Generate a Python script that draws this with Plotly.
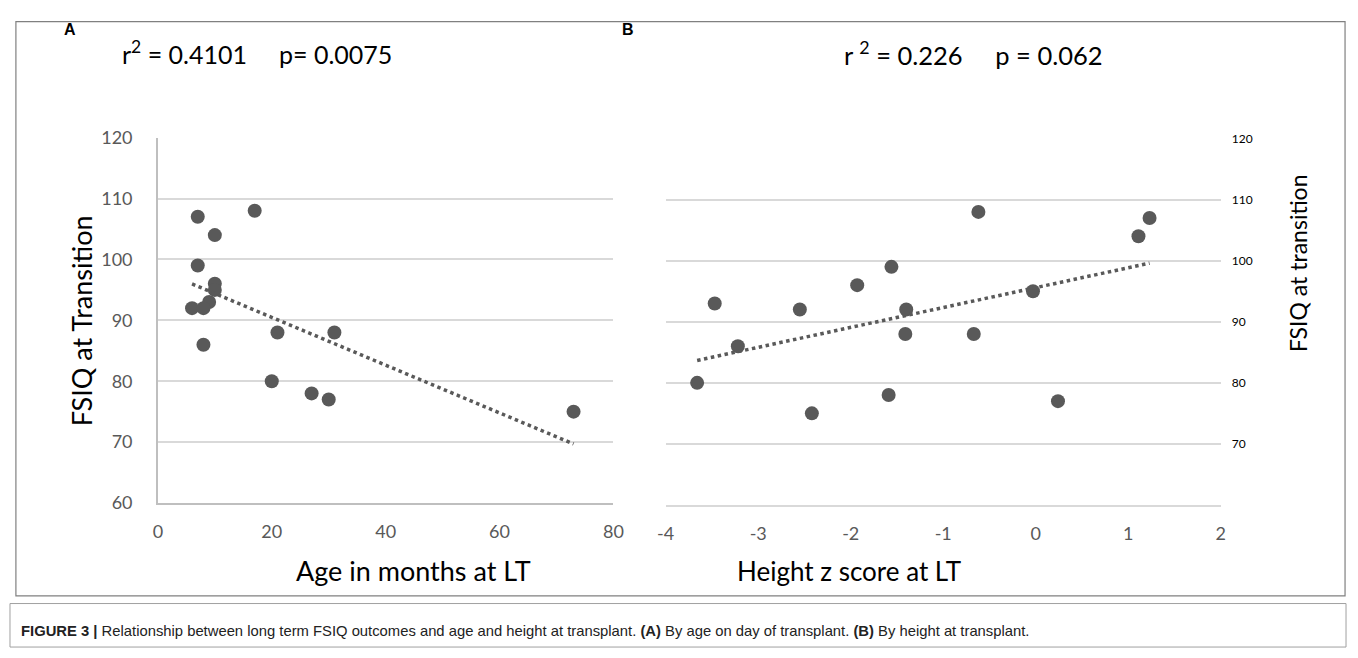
import numpy as np
import plotly.graph_objects as go

# ---- data ----
age_months = [7, 17, 10, 7, 10, 10, 9, 6, 8, 8, 21, 31, 20, 27, 30, 73]
fsiq_a = [107, 108, 104, 99, 96, 95, 93, 92, 92, 86, 88, 88, 80, 78, 77, 75]

height_z = [-0.62, -1.56, -1.93, -3.47, -2.55, -1.40, -1.41, -0.67, -3.22, -3.66,
            -1.59, -2.42, 1.23, 1.11, -0.03, 0.24]
fsiq_b = [108, 99, 96, 93, 92, 92, 88, 88, 86, 80, 78, 75, 107, 104, 95, 77]

y_ticks_a = [60, 70, 80, 90, 100, 110, 120]
y_ticks_b = [70, 80, 90, 100, 110, 120]
x_ticks_a = [0, 20, 40, 60, 80]
x_ticks_b = [-4, -3, -2, -1, 0, 1, 2]
x_labels_b = ["-4", "-3", "-2", "-1", "0", "1", "2"]

W, H = 1358, 658
def px(x):
    return x / W
def py(y):
    return 1 - y / H

MARK = "#595959"
GRID = "#d9d9d9"
FONT = "Lato, Open Sans, sans-serif"
TICKC = "#595959"

def trend(xs, ys):
    m, b = np.polyfit(xs, ys, 1)
    x0, x1 = min(xs), max(xs)
    return [x0, x1], [m * x0 + b, m * x1 + b]

fig = go.Figure()

fig.add_trace(go.Scatter(x=age_months, y=fsiq_a, mode="markers",
                         marker=dict(size=14, color=MARK), xaxis="x", yaxis="y",
                         showlegend=False))
tx, ty = trend(age_months, fsiq_a)
fig.add_trace(go.Scatter(x=tx, y=ty, mode="lines",
                         line=dict(color=MARK, width=3.5, dash="3.5px,3.5px"),
                         xaxis="x", yaxis="y", showlegend=False))

fig.add_trace(go.Scatter(x=height_z, y=fsiq_b, mode="markers",
                         marker=dict(size=14, color=MARK), xaxis="x2", yaxis="y2",
                         showlegend=False))
tx2, ty2 = trend(height_z, fsiq_b)
fig.add_trace(go.Scatter(x=tx2, y=ty2, mode="lines",
                         line=dict(color=MARK, width=3.5, dash="3.5px,3.5px"),
                         xaxis="x2", yaxis="y2", showlegend=False))

fig.update_layout(
    width=W, height=H,
    margin=dict(l=0, r=0, t=0, b=0),
    paper_bgcolor="white", plot_bgcolor="white",
    font=dict(family=FONT, color="#000"),
    xaxis=dict(domain=[px(151), px(613)], range=[0, 80], tickvals=x_ticks_a,
               showgrid=False, zeroline=False, showline=True, linecolor="#bfbfbf",
               linewidth=1.5, ticks="", tickfont=dict(size=18, color=TICKC),
               ticklabelstandoff=12, anchor="y"),
    yaxis=dict(domain=[py(508), py(130)], range=[60, 120], tickvals=y_ticks_a,
               showgrid=True, gridcolor=GRID, gridwidth=1.5, zeroline=False,
               showline=True, linecolor="#bfbfbf", linewidth=1.5, ticks="",
               tickfont=dict(size=18, color=TICKC), ticklabelstandoff=20,
               anchor="x"),
    xaxis2=dict(domain=[px(666), px(1229)], range=[-4, 2], tickvals=x_ticks_b,
                ticktext=x_labels_b,
                showgrid=False, zeroline=False, showline=True, linecolor=GRID,
                linewidth=1.5, ticks="",
                tickfont=dict(size=18, color=TICKC), ticklabelstandoff=12,
                anchor="y2"),
    yaxis2=dict(domain=[py(510), py(131)], range=[60, 120], tickvals=y_ticks_b,
                side="right", showgrid=True, gridcolor=GRID, gridwidth=1.5,
                zeroline=False, showline=False, ticks="",
                tickfont=dict(size=12, color="#000"), ticklabelstandoff=10,
                anchor="x2"),
)

def A(text, x, y, size, xanchor="center", angle=0, family=None, color=None):
    f = dict(size=size)
    if family:
        f["family"] = family
    if color:
        f["color"] = color
    return dict(text=text, x=px(x), y=py(y), xanchor=xanchor, yanchor="middle",
                textangle=angle, font=f, showarrow=False, xref="paper", yref="paper")

ann = [
    A("FSIQ at Transition", 73, 319, 27, angle=-90),
    A("FSIQ at transition", 1308, 260, 23, angle=-90),
    A("Age in months at LT", 410, 578, 27),
    A("Height z score at LT", 852, 578, 26),
    A("<b>A</b>", 62, 18, 16, family="Liberation Sans, Arial"),
    A("<b>B</b>", 628, 18, 16, family="Liberation Sans, Arial"),
    A("r<sup>2</sup> = 0.4101\u00a0\u00a0\u00a0\u00a0\u00a0p= 0.0075", 113, 42, 25,
      xanchor="left"),
    A("r <sup>2</sup> = 0.226\u00a0\u00a0\u00a0\u00a0\u00a0p = 0.062", 845, 42, 25.5,
      xanchor="left"),
    A("<b>FIGURE 3 |</b> Relationship between long term FSIQ outcomes and age and height at transplant. "
      "<b>(A)</b> By age on day of transplant. <b>(B)</b> By height at transplant.",
      10, 640, 14.8, xanchor="left",
      family="Liberation Sans Narrow, Liberation Sans, Arial", color="#222"),
]
fig.update_layout(annotations=ann)

fig.update_layout(shapes=[
    dict(type="rect", xref="paper", yref="paper", x0=px(7), x1=px(1355),
         y0=py(604), y1=py(10), line=dict(color="#808080", width=1.2)),
    dict(type="rect", xref="paper", yref="paper", x0=px(1), x1=px(1356),
         y0=py(657), y1=py(612), line=dict(color="#a0a0a0", width=1)),
])

fig.write_html("out.html", config={"displayModeBar": False})

# remove the default page margin so the figure fills the window exactly
with open("out.html", "r", encoding="utf-8") as fh:
    html = fh.read()
html = html.replace(
    "<head>",
    "<head><style>html,body{margin:0;padding:0;overflow:hidden;background:#fff;}</style>",
    1)
with open("out.html", "w", encoding="utf-8") as fh:
    fh.write(html)
